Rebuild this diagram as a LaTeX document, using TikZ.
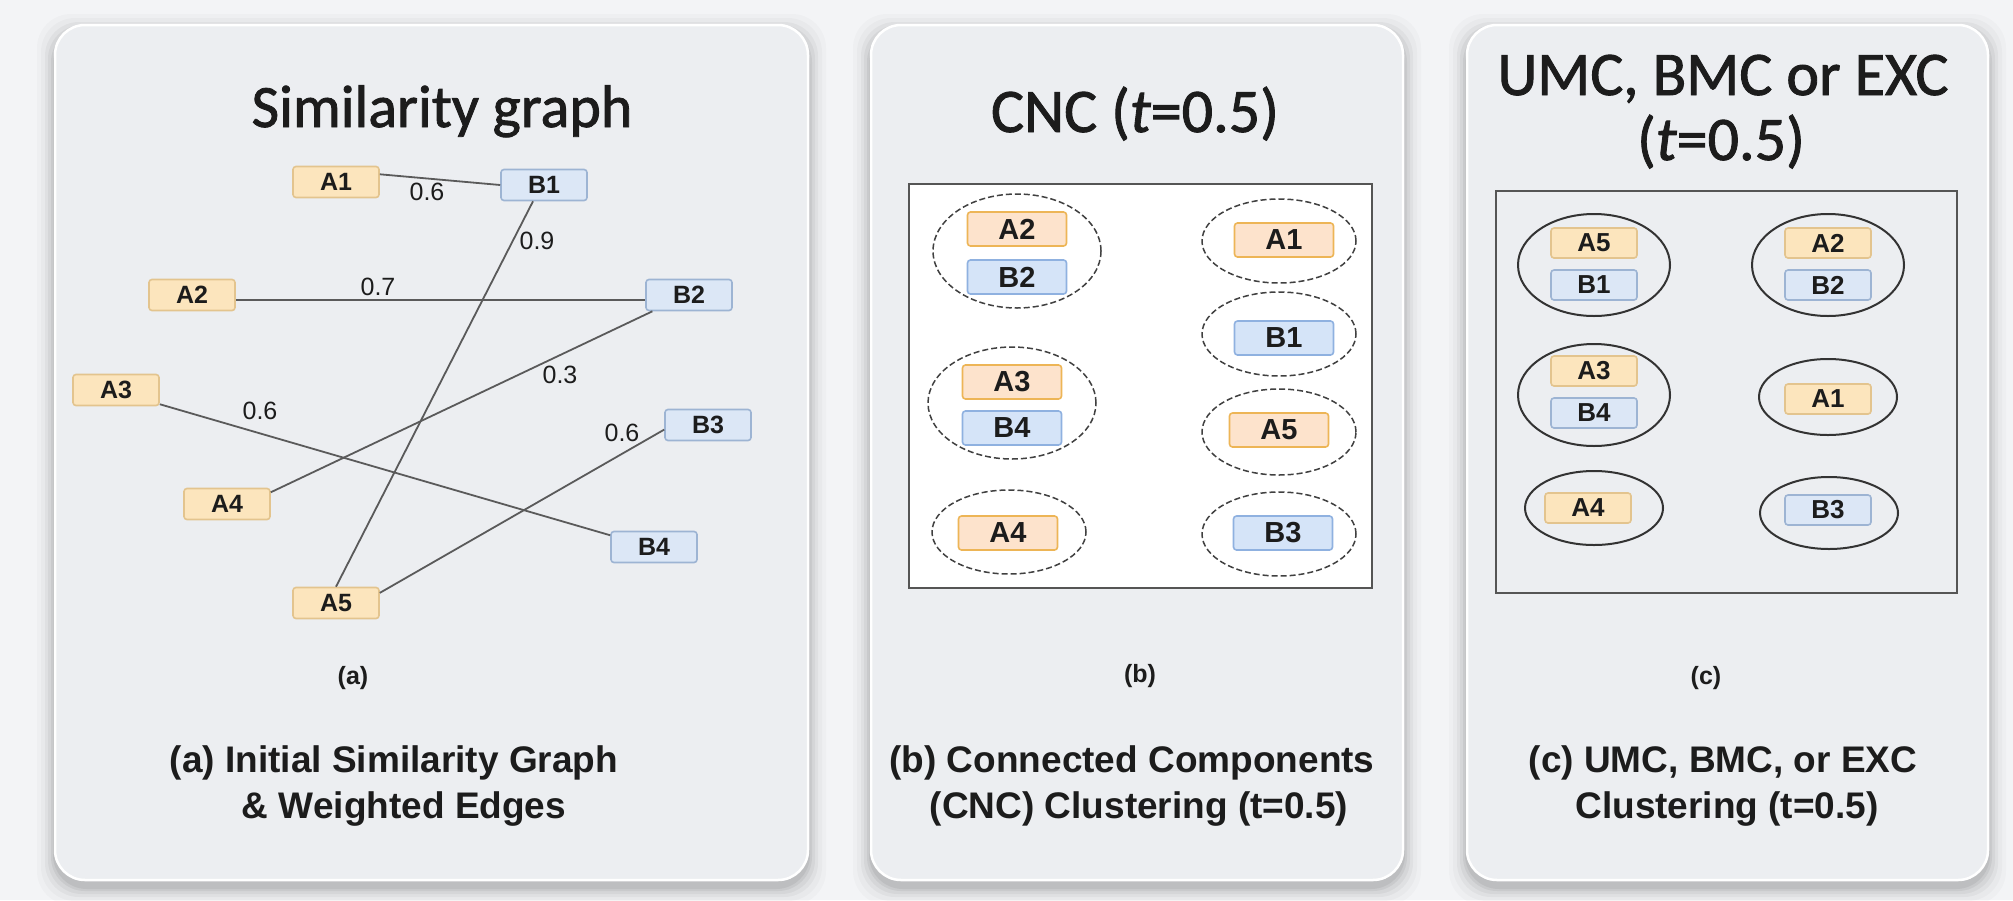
\documentclass[tikz,border=0pt]{standalone}
\usepackage{fontspec}
\setmainfont{Liberation Sans}
\newfontfamily\headfont{Carlito}[UprightFeatures={FakeBold=1.4},ItalicFeatures={FakeBold=1.4}]
\usetikzlibrary{shapes.geometric}

\definecolor{pagebg}{HTML}{F3F4F6}
\definecolor{panelfill}{HTML}{ECEEF1}
\definecolor{ink}{HTML}{1C1C1C}
\definecolor{edgegray}{HTML}{5A5A5A}
\definecolor{framegray}{HTML}{555555}
% item colours, graph panel and third panel
\definecolor{afill}{HTML}{FCE5BD}
\definecolor{adraw}{HTML}{E3C48E}
\definecolor{bfill}{HTML}{DCE7F6}
\definecolor{bdraw}{HTML}{9DB4D3}
% item colours, connected-components panel
\definecolor{afillb}{HTML}{FDE3CC}
\definecolor{adrawb}{HTML}{EDB556}
\definecolor{bfillb}{HTML}{D5E4F8}
\definecolor{bdrawb}{HTML}{8FB1E0}

\newcommand\castshadow[4]{%
  \foreach \d/\op in {18/0.02,14/0.025,10/0.035,7/0.045,4/0.055,2/0.06}{%
    \fill[black,opacity=\op,rounded corners=34pt]
      (#1-\d,#2-\d+7) rectangle (#3+\d,#4+\d+7);}%
}

\tikzset{
  panel/.style={fill=panelfill,draw=white,line width=2.5pt,rounded corners=30pt},
  headtitle/.style={text=ink,font=\headfont\fontsize{62}{62}\selectfont,anchor=base,inner sep=0pt},
  captext/.style={text=ink,font=\bfseries\fontsize{37}{37}\selectfont,anchor=base,inner sep=0pt},
  sublabel/.style={text=ink,font=\bfseries\fontsize{25}{25}\selectfont,inner sep=0pt},
  weight/.style={text=ink,font=\fontsize{25}{25}\selectfont,inner sep=0pt},
  item/.style={rounded corners=3pt,line width=1.6pt,inner sep=0pt,text=ink},
  itemA/.style={item,draw=adraw,fill=afill,minimum width=86pt,minimum height=31pt,
    font=\bfseries\fontsize{25}{25}\selectfont},
  itemB/.style={item,draw=bdraw,fill=bfill,minimum width=86pt,minimum height=31pt,
    font=\bfseries\fontsize{25}{25}\selectfont},
  itemAb/.style={item,draw=adrawb,fill=afillb,minimum width=99pt,minimum height=34pt,
    font=\bfseries\fontsize{29}{29}\selectfont},
  itemBb/.style={item,draw=bdrawb,fill=bfillb,minimum width=99pt,minimum height=34pt,
    font=\bfseries\fontsize{29}{29}\selectfont},
  itemAc/.style={itemA,minimum height=30pt,font=\bfseries\fontsize{26}{26}\selectfont},
  itemBc/.style={itemB,minimum height=30pt,font=\bfseries\fontsize{26}{26}\selectfont},
  simedge/.style={draw=edgegray,line width=1.8pt},
  frame/.style={draw=framegray,line width=2pt},
  dashedgroup/.style={ellipse,draw=black!75,line width=1.5pt,dash pattern=on 6pt off 3pt,inner sep=0pt},
  solidgroup/.style={ellipse,draw=black!80,line width=2pt,inner sep=0pt},
}

\begin{document}
\begin{tikzpicture}[x=1pt,y=-1pt]
\useasboundingbox (0,0) rectangle (2013,900);
\fill[pagebg] (0,0) rectangle (2013,900);

% ---------- panel backgrounds ----------
\castshadow{55}{25}{808}{880}
\castshadow{871}{25}{1403}{880}
\castshadow{1467}{25}{1988}{880}
\path[panel] (55,25) rectangle (808,880);
\path[panel] (871,25) rectangle (1403,880);
\path[panel] (1467,25) rectangle (1988,880);

% ---------- (a) similarity graph ----------
\node[headtitle,font=\headfont\fontsize{60}{60}\selectfont] (ta) at (442,127) {Similarity graph};

\node[itemA] (a-A1) at (336,182) {A1};
\node[itemB] (a-B1) at (544,185) {B1};
\node[itemA] (a-A2) at (192,295) {A2};
\node[itemB] (a-B2) at (689,295) {B2};
\node[itemA] (a-A3) at (116,390) {A3};
\node[itemB] (a-B3) at (708,425) {B3};
\node[itemA] (a-A4) at (227,504) {A4};
\node[itemB] (a-B4) at (654,547) {B4};
\node[itemA] (a-A5) at (336,603) {A5};

\draw[simedge] (a-A1.10) -- (a-B1.west);
\draw[simedge] (a-A2.-7) -- (a-B2.187);
\draw[simedge] (a-B1.-124) -- (a-A5.north);
\draw[simedge] (a-B2.-156) -- (a-A4.15);
\draw[simedge] (a-A3.-18) -- (a-B4.165);
\draw[simedge] (a-B3.186) -- (a-A5.13);

\node[weight] (w1) at (427,192) {0.6};
\node[weight] (w2) at (537,241) {0.9};
\node[weight] (w3) at (378,287) {0.7};
\node[weight] (w4) at (260,411) {0.6};
\node[weight] (w5) at (560,375) {0.3};
\node[weight] (w6) at (622,433) {0.6};

\node[sublabel] (la) at (353,678) {(a)};
\node[captext] (ca1) at (394,772) {(a) Initial Similarity Graph};
\node[captext] (ca2) at (404,818) {\& Weighted Edges};

% ---------- (b) connected components ----------
\node[headtitle] (tb) at (1135,132) {CNC (\textit{t}=0.5)};
\draw[frame,fill=white] (909,184) rectangle (1372,588);

\node[dashedgroup,minimum width=168pt,minimum height=114pt] (b-g1) at (1017,251) {};
\node[itemAb] (b-A2) at (1017,229) {A2};
\node[itemBb] (b-B2) at (1017,277) {B2};

\node[dashedgroup,minimum width=168pt,minimum height=112pt] (b-g2) at (1012,403) {};
\node[itemAb] (b-A3) at (1012,382) {A3};
\node[itemBb] (b-B4) at (1012,428) {B4};

\node[dashedgroup,minimum width=154pt,minimum height=84pt] (b-g3) at (1009,532) {};
\node[itemAb] (b-A4) at (1008,533) {A4};

\node[dashedgroup,minimum width=154pt,minimum height=84pt] (b-g4) at (1279,241) {};
\node[itemAb] (b-A1) at (1284,240) {A1};

\node[dashedgroup,minimum width=154pt,minimum height=84pt] (b-g5) at (1279,334) {};
\node[itemBb] (b-B1) at (1284,338) {B1};

\node[dashedgroup,minimum width=154pt,minimum height=86pt] (b-g6) at (1279,432) {};
\node[itemAb] (b-A5) at (1279,430) {A5};

\node[dashedgroup,minimum width=154pt,minimum height=84pt] (b-g7) at (1279,534) {};
\node[itemBb] (b-B3) at (1283,533) {B3};

\node[sublabel] (lb) at (1140,676) {(b)};
\node[captext] (cb1) at (1132,772) {(b) Connected Components};
\node[captext] (cb2) at (1139,818) {(CNC) Clustering (t=0.5)};

% ---------- (c) UMC / BMC / EXC ----------
\node[headtitle] (tc1) at (1723,95) {UMC, BMC or EXC};
\node[headtitle] (tc2) at (1721,160) {(\textit{t}=0.5)};
\draw[frame] (1496,191) rectangle (1957,593);

\node[solidgroup,minimum width=152pt,minimum height=102pt] (c-g1) at (1594,265) {};
\node[itemAc] (c-A5) at (1594,243) {A5};
\node[itemBc] (c-B1) at (1594,285) {B1};

\node[solidgroup,minimum width=152pt,minimum height=102pt] (c-g2) at (1594,395) {};
\node[itemAc] (c-A3) at (1594,371) {A3};
\node[itemBc] (c-B4) at (1594,413) {B4};

\node[solidgroup,minimum width=138pt,minimum height=74pt] (c-g3) at (1594,508) {};
\node[itemAc] (c-A4) at (1588,508) {A4};

\node[solidgroup,minimum width=152pt,minimum height=102pt] (c-g4) at (1828,265) {};
\node[itemAc] (c-A2) at (1828,243) {A2};
\node[itemBc] (c-B2) at (1828,285) {B2};

\node[solidgroup,minimum width=138pt,minimum height=76pt] (c-g5) at (1828,397) {};
\node[itemAc] (c-A1) at (1828,399) {A1};

\node[solidgroup,minimum width=138pt,minimum height=72pt] (c-g6) at (1829,513) {};
\node[itemBc] (c-B3) at (1828,510) {B3};

\node[sublabel] (lc) at (1706,678) {(c)};
\node[captext] (cc1) at (1723,772) {(c) UMC, BMC, or EXC};
\node[captext] (cc2) at (1727,818) {Clustering (t=0.5)};
\end{tikzpicture}
\end{document}
